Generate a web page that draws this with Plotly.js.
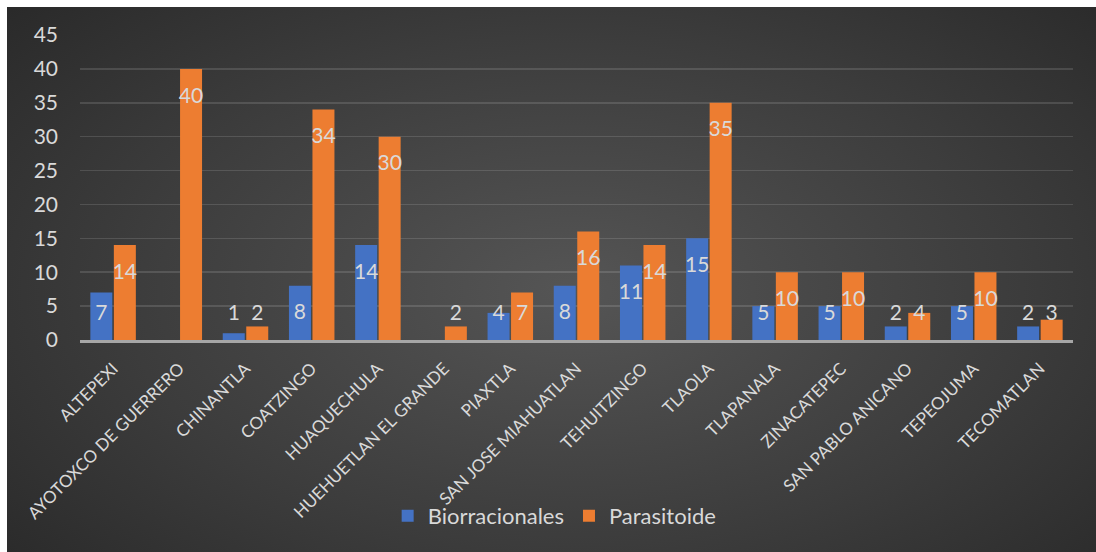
<!DOCTYPE html>
<html>
<head>
<meta charset="utf-8">
<script src="https://cdn.plot.ly/plotly-3.0.1.min.js"></script>
<style>
  html, body { margin: 0; padding: 0; background: #ffffff; width: 1096px; height: 552px; overflow: hidden; }
  #bg { position: absolute; left: 7px; top: 7px; width: 1089px; height: 545px;
        background: radial-gradient(ellipse 75% 85% at 52% 52%, #555555 0%, #3c3c3c 55%, #262626 100%); }
  #chart { position: absolute; left: 7px; top: 7px; width: 1089px; height: 545px; }
</style>
</head>
<body>
<div id="bg"></div>
<div id="chart"></div>
<script>
const categories = ["ALTEPEXI", "AYOTOXCO DE GUERRERO", "CHINANTLA", "COATZINGO", "HUAQUECHULA",
  "HUEHUETLAN EL GRANDE", "PIAXTLA", "SAN JOSE MIAHUATLAN", "TEHUITZINGO", "TLAOLA",
  "TLAPANALA", "ZINACATEPEC", "SAN PABLO ANICANO", "TEPEOJUMA", "TECOMATLAN"];
const biorracionales = [7, null, 1, 8, 14, null, 4, 8, 11, 15, 5, 5, 2, 5, 2];
const parasitoide = [14, 40, 2, 34, 30, 2, 7, 16, 14, 35, 10, 10, 4, 10, 3];
const yTicks = [0, 5, 10, 15, 20, 25, 30, 35, 40, 45];

const labelColor = '#d9d9d9';
const fontFam = 'Lato, "Open Sans", sans-serif';

// label placement like Excel "inside end": a bit below the bar top, never below a floor
function labelY(v) { return v == null ? null : Math.max(v - 4.2, 3.7); }

const traces = [
  { type: 'bar', name: 'Biorracionales', x: categories, y: biorracionales,
    marker: { color: '#4472C4' }, hoverinfo: 'x+y' },
  { type: 'bar', name: 'Parasitoide', x: categories, y: parasitoide,
    marker: { color: '#ED7D31' }, hoverinfo: 'x+y' },
  { type: 'scatter', mode: 'text', x: categories, y: biorracionales.map(labelY),
    text: biorracionales.map(v => v == null ? '' : String(v)), showlegend: false,
    textposition: 'middle center', textfont: { family: fontFam, size: 21, color: labelColor }, hoverinfo: 'skip' },
  { type: 'scatter', mode: 'text', x: categories, y: parasitoide.map(labelY),
    text: parasitoide.map(v => v == null ? '' : String(v)), showlegend: false,
    textposition: 'middle center', textfont: { family: fontFam, size: 21, color: labelColor }, hoverinfo: 'skip' }
];

const layout = {
  width: 1089, height: 545,
  margin: { l: 73, r: 23, t: 28, b: 212 },
  paper_bgcolor: 'rgba(0,0,0,0)',
  plot_bgcolor: 'rgba(0,0,0,0)',
  barmode: 'group',
  bargap: 0.29,
  bargroupgap: 0.064,
  scattermode: 'group',
  scattergap: 0.29,
  font: { family: fontFam, color: labelColor },
  xaxis: {
    type: 'category', tickangle: -45, showgrid: false,
    showline: true, linecolor: '#a6a6a6', linewidth: 3,
    tickfont: { family: fontFam, size: 17, color: labelColor },
    ticks: '', ticklabelstandoff: 9, fixedrange: true
  },
  yaxis: {
    range: [0, 45], tickvals: yTicks, ticktext: yTicks.map(String),
    showgrid: true, gridcolor: 'rgba(255,255,255,0.13)', gridwidth: 1.5,
    zeroline: false, showline: false, ticks: '',
    ticklabelstandoff: 21,
    tickfont: { family: fontFam, size: 21, color: labelColor }, fixedrange: true
  },
  showlegend: true,
  legend: {
    orientation: 'h', x: 0.478, xanchor: 'center', y: -0.577, yanchor: 'middle',
    font: { family: fontFam, size: 22, color: labelColor },
    bgcolor: 'rgba(0,0,0,0)', itemwidth: 30
  }
};

Plotly.newPlot('chart', traces, layout, { staticPlot: true, displayModeBar: false });
</script>
</body>
</html>
